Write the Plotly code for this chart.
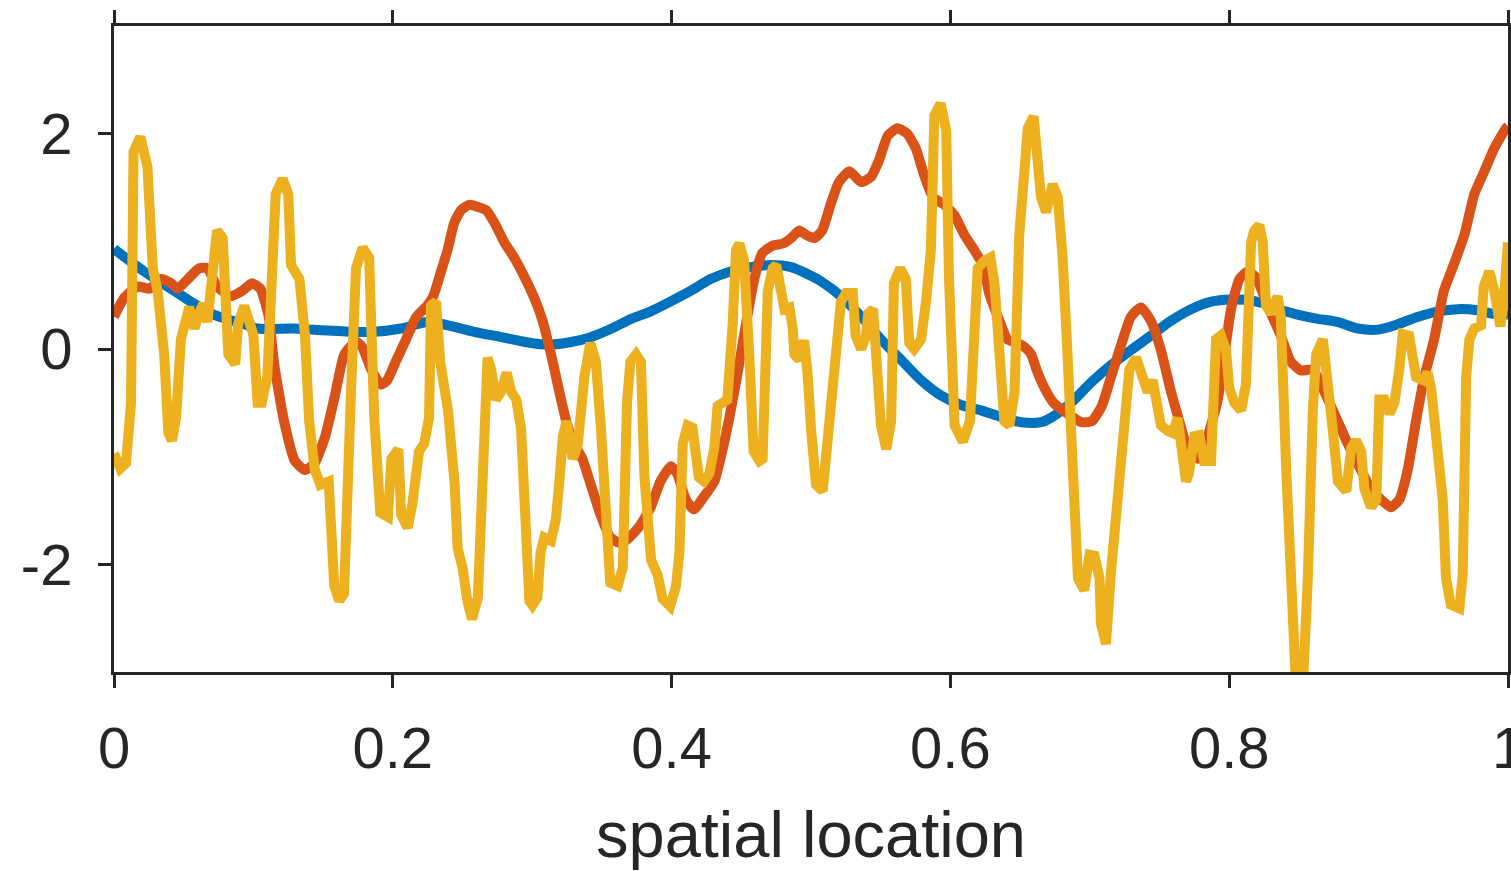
import plotly.graph_objects as go

# ---- data ----
blue_x = [0, 0.0217, 0.0456, 0.0695, 0.0935, 0.103, 0.129, 0.141, 0.170, 0.187, 0.206, 0.225, 0.2396,
          0.2585, 0.278, 0.297, 0.311, 0.326, 0.342, 0.357, 0.371, 0.385, 0.399, 0.4136, 0.428, 0.4423,
          0.4567, 0.471, 0.4857, 0.5, 0.507, 0.5215, 0.536, 0.5502, 0.5646, 0.579, 0.593, 0.6076, 0.622,
          0.636, 0.6507, 0.665, 0.672, 0.6865, 0.701, 0.7152, 0.7295, 0.744, 0.758, 0.7727, 0.787, 0.8013,
          0.8157, 0.83, 0.8348, 0.849, 0.8636, 0.878, 0.8923, 0.9067, 0.921, 0.9355, 0.95, 0.9639, 0.978,
          0.988, 1.0]
blue_y = [0.93, 0.72, 0.52, 0.33, 0.23, 0.19, 0.19, 0.18, 0.16, 0.16, 0.19, 0.25, 0.22,
          0.16, 0.11, 0.06, 0.04, 0.06, 0.11, 0.19, 0.28, 0.35, 0.44, 0.54, 0.65, 0.72,
          0.76, 0.78, 0.76, 0.68, 0.63, 0.49, 0.30, 0.09, -0.10, -0.29, -0.43, -0.52, -0.57,
          -0.63, -0.68, -0.68, -0.64, -0.50, -0.31, -0.15, -0.01, 0.125, 0.26, 0.37, 0.44, 0.46,
          0.45, 0.40, 0.37, 0.32, 0.28, 0.25, 0.19, 0.18, 0.23, 0.30, 0.35, 0.37, 0.36,
          0.33, 0.32]

orange_x = [0.000, 0.007, 0.017, 0.0256, 0.0337, 0.041, 0.0456, 0.053, 0.0612, 0.067, 0.074, 0.0839,
            0.092, 0.099, 0.105, 0.111, 0.115, 0.122, 0.1297, 0.137, 0.144, 0.1515, 0.1585, 0.1652,
            0.1736, 0.178, 0.1845, 0.1915, 0.196, 0.202, 0.2095, 0.217, 0.2245, 0.229, 0.2346, 0.2393,
            0.244, 0.249, 0.255, 0.261, 0.2669, 0.273, 0.280, 0.287, 0.294, 0.3016, 0.3075, 0.3135,
            0.3195, 0.325, 0.331, 0.336, 0.342, 0.349, 0.356, 0.3625, 0.368, 0.3767, 0.385, 0.392,
            0.3995, 0.404, 0.4103, 0.416, 0.4233, 0.4306, 0.435, 0.4414, 0.4474, 0.4533, 0.4593, 0.465,
            0.4725, 0.480, 0.4857, 0.4916, 0.4964, 0.5024, 0.508, 0.514, 0.520, 0.5275, 0.536, 0.5431,
            0.549, 0.555, 0.562, 0.569, 0.5753, 0.581, 0.5875, 0.5956, 0.603, 0.610, 0.617, 0.6233,
            0.628, 0.634, 0.641, 0.648, 0.653, 0.658, 0.662, 0.6674, 0.674, 0.684, 0.694, 0.7015,
            0.7086, 0.7152, 0.722, 0.7295, 0.7367, 0.7439, 0.751, 0.7583, 0.7642, 0.770, 0.7774, 0.7846,
            0.7918, 0.7966, 0.8013, 0.8073, 0.8133, 0.8195, 0.8276, 0.837, 0.8443, 0.8515, 0.860, 0.867,
            0.8754, 0.884, 0.892, 0.9017, 0.909, 0.916, 0.922, 0.928, 0.934, 0.940, 0.947, 0.954,
            0.961, 0.9687, 0.9759, 0.983, 0.990, 0.9985, 1.000]
orange_y = [0.30, 0.47, 0.58, 0.56, 0.65, 0.61, 0.56, 0.65, 0.75, 0.75, 0.58, 0.49,
            0.54, 0.61, 0.56, 0.30, -0.15, -0.67, -1.04, -1.125, -1.06, -0.81, -0.43, -0.05,
            0.07, 0.02, -0.19, -0.33, -0.29, -0.12, 0.09, 0.30, 0.40, 0.49, 0.72, 0.92,
            1.17, 1.29, 1.34, 1.32, 1.29, 1.17, 0.99, 0.85, 0.68, 0.47, 0.26, -0.05,
            -0.40, -0.70, -0.90, -1.02, -1.26, -1.54, -1.75, -1.80, -1.77, -1.65, -1.47, -1.23,
            -1.09, -1.16, -1.40, -1.49, -1.37, -1.23, -1.02, -0.64, -0.22, 0.23, 0.65, 0.89,
            0.96, 0.98, 1.03, 1.10, 1.06, 1.03, 1.10, 1.34, 1.55, 1.65, 1.55, 1.60,
            1.76, 1.98, 2.05, 2.00, 1.86, 1.62, 1.41, 1.34, 1.24, 1.06, 0.92, 0.78,
            0.51, 0.30, 0.09, 0.056, 0.02, -0.05, -0.20, -0.36, -0.50, -0.60, -0.68, -0.67,
            -0.53, -0.26, 0.02, 0.30, 0.385, 0.26, -0.01, -0.40, -0.67, -0.92, -1.02, -0.81,
            -0.47, -0.05, 0.37, 0.65, 0.72, 0.66, 0.40, 0.125, -0.12, -0.20, -0.19, -0.36,
            -0.60, -0.85, -1.06, -1.30, -1.40, -1.47, -1.40, -1.125, -0.67, -0.26, 0.09, 0.54,
            0.78, 1.06, 1.44, 1.65, 1.86, 2.05, 2.07]

yellow_x = [0.000, 0.0045, 0.0086, 0.0122, 0.0140, 0.0189, 0.0240, 0.0278, 0.0313, 0.0360, 0.0390,
            0.0416, 0.0445, 0.0480, 0.0540, 0.0577, 0.0610, 0.0640, 0.0670, 0.0700, 0.0739, 0.0780,
            0.0820, 0.0870, 0.0890, 0.0935, 0.0960, 0.1000, 0.1030, 0.1060, 0.1100, 0.1130, 0.1160,
            0.1210, 0.1250, 0.1270, 0.1330, 0.1370, 0.1400, 0.1440, 0.1480, 0.1540, 0.1560, 0.1580,
            0.1616, 0.1650, 0.1700, 0.1736, 0.1784, 0.1830, 0.1867, 0.1910, 0.1965, 0.1990, 0.2040,
            0.2060, 0.2107, 0.2140, 0.2188, 0.2225, 0.2260, 0.2274, 0.2310, 0.2340, 0.2396, 0.2444,
            0.2465, 0.2500, 0.2535, 0.2568, 0.2610, 0.2645, 0.2680, 0.2705, 0.2740, 0.2775, 0.2817,
            0.2850, 0.2886, 0.2920, 0.2956, 0.2980, 0.3002, 0.3037, 0.3060, 0.3087, 0.3135, 0.3170,
            0.3195, 0.3220, 0.3247, 0.3290, 0.3326, 0.3374, 0.3417, 0.3457, 0.3493, 0.3530, 0.3560,
            0.3613, 0.3650, 0.3680, 0.3704, 0.3745, 0.3780, 0.3805, 0.3853, 0.3900, 0.3935, 0.3989,
            0.4032, 0.4056, 0.4080, 0.4115, 0.4150, 0.4195, 0.4233, 0.4270, 0.4306, 0.4330, 0.4354,
            0.4400, 0.4438, 0.4462, 0.4486, 0.4520, 0.4557, 0.4588, 0.4630, 0.4653, 0.4690, 0.4725,
            0.4750, 0.4785, 0.4810, 0.4845, 0.4869, 0.4880, 0.4917, 0.4950, 0.4975, 0.5000, 0.5036,
            0.5084, 0.5120, 0.5167, 0.5215, 0.5251, 0.5300, 0.5320, 0.5360, 0.5395, 0.5410, 0.5445,
            0.5470, 0.5502, 0.5540, 0.5575, 0.5595, 0.5640, 0.5680, 0.5705, 0.5740, 0.5790, 0.5825,
            0.5860, 0.5885, 0.5930, 0.5970, 0.5990, 0.6030, 0.6090, 0.6140, 0.6175, 0.6196, 0.6244,
            0.6287, 0.6316, 0.6340, 0.6360, 0.6387, 0.6423, 0.6460, 0.6494, 0.6520, 0.6555, 0.6597,
            0.6626, 0.6650, 0.6686, 0.6734, 0.6770, 0.6805, 0.6840, 0.6880, 0.6915, 0.6960, 0.6998,
            0.7034, 0.7070, 0.7080, 0.7116, 0.7150, 0.7200, 0.7248, 0.7284, 0.7332, 0.7380, 0.7415,
            0.7451, 0.7487, 0.7510, 0.7560, 0.7594, 0.7630, 0.7655, 0.7690, 0.7710, 0.7750, 0.7785,
            0.7820, 0.7870, 0.7890, 0.7906, 0.7940, 0.7977, 0.8000, 0.8037, 0.8085, 0.8120, 0.8157,
            0.8180, 0.8217, 0.8240, 0.8264, 0.8300, 0.8348, 0.8370, 0.8408, 0.8443, 0.8480, 0.8528,
            0.8564, 0.8600, 0.8624, 0.8672, 0.8708, 0.8742, 0.8780, 0.8840, 0.8875, 0.8910, 0.8947,
            0.8970, 0.9018, 0.9055, 0.9077, 0.9113, 0.9150, 0.9185, 0.9220, 0.9245, 0.9290, 0.9317,
            0.9340, 0.9390, 0.9424, 0.9448, 0.9496, 0.9532, 0.9555, 0.9590, 0.9651, 0.9675, 0.9700,
            0.9723, 0.9759, 0.9807, 0.9826, 0.9866, 0.9902, 0.9945, 0.9969, 0.9986, 1.0000]
yellow_y = [-0.97, -1.11, -1.06, -0.50, 1.83, 1.97, 1.69, 0.75, 0.54, -0.05, -0.78,
            -0.85, -0.64, 0.09, 0.39, 0.19, 0.33, 0.42, 0.25, 0.65, 1.10, 1.03,
            -0.05, -0.14, 0.23, 0.40, 0.26, 0.13, -0.50, -0.50, -0.26, 0.72, 1.44,
            1.58, 1.44, 0.78, 0.65, 0.125, -0.67, -1.12, -1.26, -1.23, -1.65, -2.20,
            -2.34, -2.27, -0.40, 0.75, 0.94, 0.85, -0.64, -1.52, -1.56, -1.02, -0.93,
            -1.54, -1.66, -1.44, -0.95, -0.88, -0.64, 0.40, 0.44, -0.12, -0.57, -1.26,
            -1.85, -2.03, -2.34, -2.51, -2.31, -1.125, -0.08, -0.19, -0.47, -0.40, -0.22,
            -0.40, -0.47, -0.74, -1.75, -2.34, -2.38, -2.31, -1.89, -1.75, -1.78, -1.58,
            -1.23, -0.81, -0.67, -1.02, -0.90, -0.26, 0.056, -0.12, -0.74, -1.54, -2.17,
            -2.20, -2.03, -0.50, -0.12, -0.05, -0.12, -1.19, -1.96, -2.10, -2.32, -2.39,
            -2.20, -1.89, -0.88, -0.71, -0.73, -1.19, -1.23, -1.16, -0.92, -0.53, -0.50,
            -0.47, 0.23, 0.92, 0.98, 0.82, -0.05, -0.95, -1.04, -1.02, 0.54, 0.75,
            0.78, 0.44, 0.37, 0.385, 0.19, -0.05, -0.10, 0.08, -0.22, -0.74, -1.26,
            -1.32, -0.81, -0.05, 0.44, 0.52, 0.52, 0.125, 0.0, 0.125, 0.33, 0.37,
            -0.05, -0.71, -0.93, -0.67, 0.61, 0.75, 0.65, 0.056, 0.0, 0.09, 0.44,
            0.92, 2.17, 2.28, 2.03, 0.65, -0.71, -0.86, -0.67, 0.30, 0.75, 0.82,
            0.85, 0.61, 0.16, -0.47, -0.67, -0.71, -0.40, 1.06, 1.55, 2.05, 2.16,
            1.81, 1.41, 1.27, 1.53, 1.41, 0.85, -0.05, -1.33, -2.13, -2.24, -1.91,
            -1.92, -2.13, -2.55, -2.74, -2.10, -1.37, -0.67, -0.19, -0.08, -0.26, -0.40,
            -0.29, -0.50, -0.71, -0.76, -0.78, -0.64, -0.88, -1.23, -1.16, -0.81, -0.80,
            -1.04, -1.04, -0.40, 0.09, 0.125, -0.01, -0.36, -0.50, -0.57, -0.33, 0.99,
            1.10, 1.15, 1.00, 0.40, 0.33, 0.49, 0.30, -1.09, -2.41, -3.15, -3.15,
            -2.13, -0.57, -0.05, 0.09, -0.26, -0.74, -1.23, -1.32, -0.92, -0.85, -0.95,
            -1.30, -1.47, -1.40, -0.47, -0.47, -0.60, -0.50, -0.19, 0.14, 0.125, -0.05,
            -0.26, -0.29, -0.22, -0.36, -0.85, -1.40, -2.13, -2.375, -2.41, -2.10, -0.26,
            0.09, 0.19, 0.22, 0.58, 0.72, 0.54, 0.21, 0.44, 0.99, 0.99]

x_ticks = [0, 0.2, 0.4, 0.6, 0.8, 1]
x_tick_labels = ["0", "0.2", "0.4", "0.6", "0.8", "1"]
y_ticks = [-2, 0, 2]
y_tick_labels = ["-2", "0", "2"]
x_title = "spatial location"

BLUE = "#0072BD"
ORANGE = "#D95319"
YELLOW = "#EDB120"
AXC = "#262626"
FONT = "Liberation Sans, Arial, Helvetica, sans-serif"
LW = 10

fig = go.Figure()
fig.add_trace(go.Scatter(x=blue_x, y=blue_y, mode="lines",
                         line=dict(color=BLUE, width=LW, shape="spline", smoothing=0.8)))
fig.add_trace(go.Scatter(x=orange_x, y=orange_y, mode="lines",
                         line=dict(color=ORANGE, width=LW, shape="spline", smoothing=0.5)))
fig.add_trace(go.Scatter(x=yellow_x, y=yellow_y, mode="lines",
                         line=dict(color=YELLOW, width=LW)))

axis_common = dict(
    showgrid=False, zeroline=False, showline=True, linecolor=AXC, linewidth=3,
    mirror="ticks", ticks="outside", ticklen=13, tickwidth=3, tickcolor=AXC,
    tickfont=dict(family=FONT, size=58, color=AXC), ticklabeloverflow="allow",
)
fig.update_xaxes(range=[0, 1], tickmode="array", tickvals=x_ticks, ticktext=x_tick_labels,
                 title=dict(text=x_title, font=dict(family=FONT, size=65, color=AXC), standoff=33),
                 ticklabelstandoff=10, **axis_common)
fig.update_yaxes(range=[-3, 3], tickmode="array", tickvals=y_ticks, ticktext=y_tick_labels,
                 ticklabelstandoff=14, **axis_common)

fig.update_layout(
    width=1511, height=871, autosize=False,
    margin=dict(l=114, r=3, t=26, b=199, autoexpand=False),
    paper_bgcolor="white", plot_bgcolor="white",
    showlegend=False,
    font=dict(family=FONT, color=AXC),
)

fig.write_html("out.html", config={"displayModeBar": False, "staticPlot": True},
               post_script="document.body.style.margin='0';document.body.style.overflow='hidden';")
